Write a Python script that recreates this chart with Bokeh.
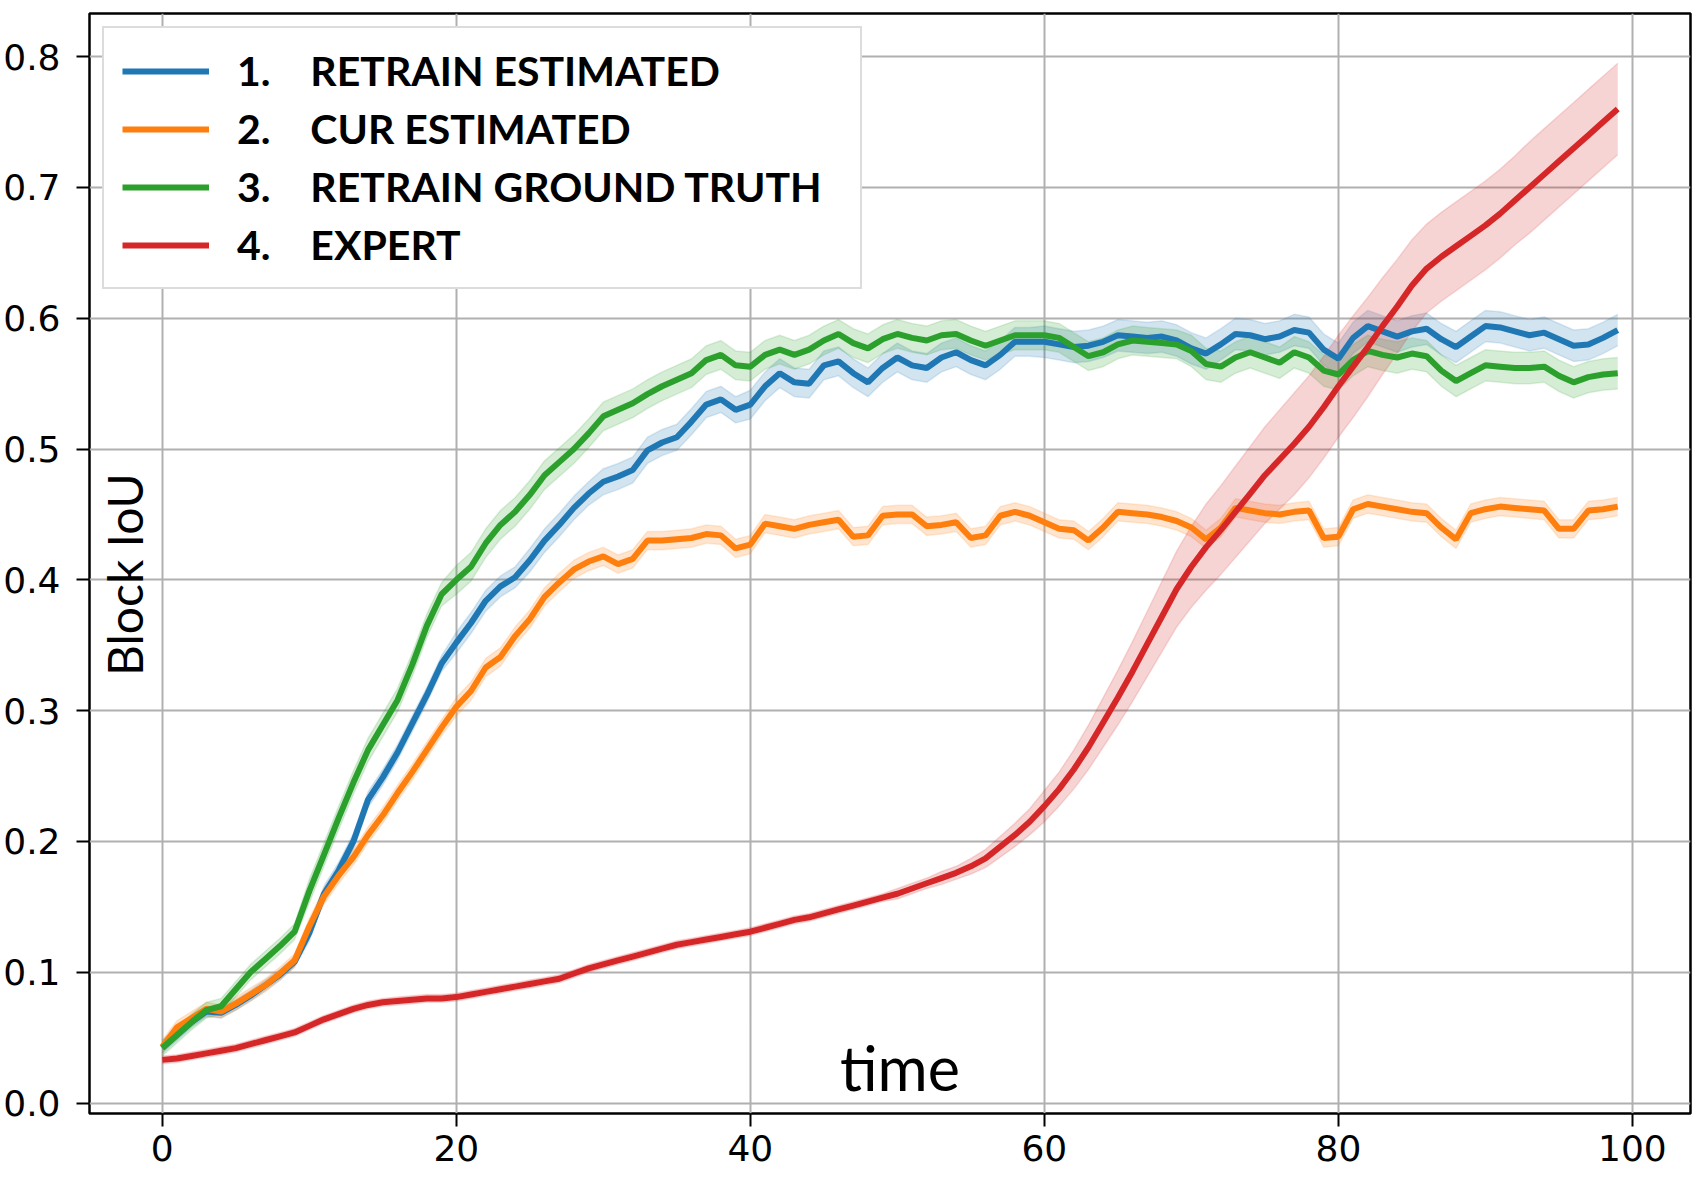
import math
from bokeh.plotting import figure
from bokeh.models import Legend, LegendItem, Label, FixedTicker, PrintfTickFormatter
from bokeh.embed import file_html
from bokeh.resources import INLINE

time_steps = list(range(100))

retrain_estimated = [
    0.042, 0.052, 0.062, 0.070, 0.069, 0.075, 0.082, 0.090, 0.098, 0.108,
    0.130, 0.160, 0.178, 0.200, 0.232, 0.249, 0.268, 0.290, 0.312, 0.336,
    0.352, 0.367, 0.384, 0.395, 0.402, 0.415, 0.430, 0.442, 0.455, 0.466,
    0.475, 0.479, 0.484, 0.499, 0.505, 0.509, 0.521, 0.534, 0.538, 0.530,
    0.534, 0.548, 0.558, 0.551, 0.550, 0.564, 0.567, 0.558, 0.551, 0.562,
    0.570, 0.564, 0.562, 0.570, 0.574, 0.568, 0.564, 0.572, 0.582, 0.582,
    0.582, 0.580, 0.578, 0.579, 0.582, 0.587, 0.586, 0.585, 0.586, 0.583,
    0.577, 0.573, 0.580, 0.588, 0.587, 0.584, 0.586, 0.591, 0.589, 0.576,
    0.569, 0.585, 0.594, 0.590, 0.586, 0.590, 0.592, 0.584, 0.578, 0.586,
    0.594, 0.593, 0.590, 0.587, 0.589, 0.584, 0.579, 0.580, 0.585, 0.591,
]
retrain_estimated_err = [
    0.004, 0.004, 0.004, 0.004, 0.004, 0.004, 0.004, 0.004, 0.004, 0.004,
    0.006, 0.006, 0.006, 0.006, 0.006, 0.006, 0.006, 0.006, 0.006, 0.006,
    0.008, 0.008, 0.008, 0.008, 0.008, 0.009, 0.009, 0.009, 0.009, 0.009,
    0.010, 0.010, 0.010, 0.010, 0.010, 0.010, 0.010, 0.010, 0.010, 0.010,
    0.011, 0.011, 0.011, 0.011, 0.011, 0.011, 0.011, 0.011, 0.011, 0.011,
    0.011, 0.011, 0.011, 0.011, 0.011, 0.011, 0.011, 0.011, 0.011, 0.011,
    0.012, 0.012, 0.012, 0.012, 0.012, 0.012, 0.012, 0.012, 0.012, 0.012,
    0.012, 0.012, 0.012, 0.012, 0.012, 0.012, 0.012, 0.012, 0.012, 0.012,
    0.012, 0.012, 0.012, 0.012, 0.012, 0.012, 0.012, 0.012, 0.012, 0.012,
    0.012, 0.012, 0.012, 0.012, 0.012, 0.012, 0.012, 0.012, 0.012, 0.012,
]

cur_estimated = [
    0.043, 0.058, 0.065, 0.072, 0.070, 0.076, 0.083, 0.090, 0.099, 0.109,
    0.135, 0.158, 0.174, 0.188, 0.205, 0.220, 0.237, 0.253, 0.270, 0.287,
    0.303, 0.315, 0.333, 0.341, 0.357, 0.370, 0.387, 0.398, 0.408, 0.414,
    0.418, 0.412, 0.416, 0.430, 0.430, 0.431, 0.432, 0.435, 0.434, 0.424,
    0.427, 0.443, 0.441, 0.439, 0.442, 0.444, 0.446, 0.433, 0.434, 0.449,
    0.450, 0.450, 0.441, 0.442, 0.444, 0.432, 0.434, 0.449, 0.452, 0.449,
    0.444, 0.439, 0.438, 0.430, 0.440, 0.452, 0.451, 0.450, 0.448, 0.445,
    0.440, 0.431, 0.440, 0.455, 0.453, 0.451, 0.450, 0.452, 0.453, 0.432,
    0.433, 0.454, 0.458, 0.456, 0.454, 0.452, 0.451, 0.440, 0.431, 0.451,
    0.454, 0.456, 0.455, 0.454, 0.453, 0.439, 0.439, 0.453, 0.454, 0.456,
]
cur_estimated_err = [
    0.005, 0.005, 0.005, 0.005, 0.005, 0.005, 0.005, 0.005, 0.005, 0.005,
    0.006, 0.006, 0.006, 0.006, 0.006, 0.006, 0.006, 0.006, 0.006, 0.006,
    0.007, 0.007, 0.007, 0.007, 0.007, 0.007, 0.007, 0.007, 0.007, 0.007,
    0.007, 0.007, 0.007, 0.007, 0.007, 0.007, 0.007, 0.007, 0.007, 0.007,
    0.007, 0.007, 0.007, 0.007, 0.007, 0.007, 0.007, 0.007, 0.007, 0.007,
    0.007, 0.007, 0.007, 0.007, 0.007, 0.007, 0.007, 0.007, 0.007, 0.007,
    0.007, 0.007, 0.007, 0.007, 0.007, 0.007, 0.007, 0.007, 0.007, 0.007,
    0.007, 0.007, 0.007, 0.007, 0.007, 0.007, 0.007, 0.007, 0.007, 0.007,
    0.007, 0.007, 0.007, 0.007, 0.007, 0.007, 0.007, 0.007, 0.007, 0.007,
    0.007, 0.007, 0.007, 0.007, 0.007, 0.007, 0.007, 0.007, 0.007, 0.007,
]

retrain_ground_truth = [
    0.042, 0.052, 0.062, 0.071, 0.074, 0.087, 0.100, 0.110, 0.120, 0.131,
    0.162, 0.190, 0.218, 0.245, 0.270, 0.289, 0.308, 0.335, 0.365, 0.389,
    0.400, 0.410, 0.428, 0.442, 0.452, 0.465, 0.480, 0.490, 0.500, 0.512,
    0.525, 0.530, 0.535, 0.542, 0.548, 0.553, 0.558, 0.568, 0.572, 0.564,
    0.563, 0.572, 0.576, 0.572, 0.576, 0.583, 0.588, 0.581, 0.577, 0.584,
    0.588, 0.585, 0.583, 0.587, 0.588, 0.583, 0.579, 0.583, 0.587, 0.587,
    0.587, 0.585, 0.578, 0.571, 0.574, 0.580, 0.583, 0.582, 0.581, 0.580,
    0.575, 0.565, 0.563, 0.570, 0.574, 0.570, 0.566, 0.574, 0.570, 0.560,
    0.557, 0.568, 0.575, 0.572, 0.570, 0.573, 0.571, 0.560, 0.552, 0.558,
    0.564, 0.563, 0.562, 0.562, 0.563, 0.556, 0.551, 0.555, 0.557, 0.558,
]
retrain_ground_truth_err = [
    0.006, 0.006, 0.006, 0.006, 0.006, 0.006, 0.006, 0.006, 0.006, 0.006,
    0.009, 0.009, 0.009, 0.009, 0.009, 0.009, 0.009, 0.009, 0.009, 0.009,
    0.011, 0.011, 0.011, 0.011, 0.011, 0.011, 0.011, 0.011, 0.011, 0.011,
    0.011, 0.011, 0.011, 0.011, 0.011, 0.011, 0.011, 0.011, 0.011, 0.011,
    0.011, 0.011, 0.011, 0.011, 0.011, 0.011, 0.011, 0.011, 0.011, 0.011,
    0.011, 0.011, 0.011, 0.011, 0.011, 0.011, 0.011, 0.011, 0.011, 0.011,
    0.011, 0.011, 0.011, 0.011, 0.011, 0.011, 0.011, 0.011, 0.011, 0.011,
    0.012, 0.012, 0.012, 0.012, 0.012, 0.012, 0.012, 0.012, 0.012, 0.012,
    0.012, 0.012, 0.012, 0.012, 0.012, 0.012, 0.012, 0.012, 0.012, 0.012,
    0.012, 0.012, 0.012, 0.012, 0.012, 0.012, 0.012, 0.012, 0.012, 0.012,
]

expert = [
    0.033, 0.034, 0.036, 0.038, 0.040, 0.042, 0.045, 0.048, 0.051, 0.054,
    0.059, 0.064, 0.068, 0.072, 0.075, 0.077, 0.078, 0.079, 0.080, 0.080,
    0.081, 0.083, 0.085, 0.087, 0.089, 0.091, 0.093, 0.095, 0.099, 0.103,
    0.106, 0.109, 0.112, 0.115, 0.118, 0.121, 0.123, 0.125, 0.127, 0.129,
    0.131, 0.134, 0.137, 0.140, 0.142, 0.145, 0.148, 0.151, 0.154, 0.157,
    0.160, 0.164, 0.168, 0.172, 0.176, 0.181, 0.187, 0.196, 0.205, 0.215,
    0.227, 0.240, 0.255, 0.272, 0.291, 0.310, 0.330, 0.351, 0.372, 0.393,
    0.410, 0.425, 0.438, 0.452, 0.466, 0.480, 0.492, 0.504, 0.517, 0.532,
    0.548, 0.563, 0.578, 0.594, 0.609, 0.625, 0.638, 0.647, 0.655, 0.663,
    0.671, 0.680, 0.690, 0.700, 0.710, 0.720, 0.730, 0.740, 0.750, 0.760,
]
expert_err = [
    0.003, 0.003, 0.003, 0.003, 0.003, 0.003, 0.003, 0.003, 0.003, 0.003,
    0.003, 0.003, 0.003, 0.003, 0.003, 0.003, 0.003, 0.003, 0.003, 0.003,
    0.003, 0.003, 0.003, 0.003, 0.003, 0.003, 0.003, 0.003, 0.003, 0.003,
    0.003, 0.003, 0.003, 0.003, 0.003, 0.003, 0.003, 0.003, 0.003, 0.003,
    0.003, 0.003, 0.003, 0.003, 0.003, 0.003, 0.003, 0.003, 0.003, 0.003,
    0.004, 0.004, 0.004, 0.005, 0.005, 0.006, 0.007, 0.008, 0.009, 0.010,
    0.012, 0.013, 0.015, 0.017, 0.019, 0.021, 0.023, 0.025, 0.027, 0.029,
    0.031, 0.033, 0.034, 0.035, 0.036, 0.037, 0.038, 0.039, 0.039, 0.039,
    0.039, 0.039, 0.038, 0.037, 0.036, 0.035, 0.034, 0.034, 0.034, 0.034,
    0.034, 0.034, 0.034, 0.035, 0.035, 0.035, 0.035, 0.035, 0.035, 0.035,
]

gap = "\u00a0\u00a0\u00a0\u00a0"
series_labels = [
    "1." + gap + "RETRAIN ESTIMATED",
    "2." + gap + "CUR ESTIMATED",
    "3." + gap + "RETRAIN GROUND TRUTH\u00a0\u00a0",
    "4." + gap + "EXPERT",
]
series_colors = ["#1f77b4", "#ff7f0e", "#2ca02c", "#d62728"]
series_values = [retrain_estimated, cur_estimated, retrain_ground_truth, expert]
series_errors = [retrain_estimated_err, cur_estimated_err, retrain_ground_truth_err, expert_err]

x_ticks = [0, 20, 40, 60, 80, 100]
y_ticks = [0.0, 0.1, 0.2, 0.3, 0.4, 0.5, 0.6, 0.7, 0.8]

p = figure(
    width=1696, height=1176,
    x_range=(-4.95, 103.95), y_range=(-0.008, 0.833),
    output_backend="svg", toolbar_location=None,
    min_border_left=87, min_border_right=6, min_border_top=13, min_border_bottom=63,
)
p.background_fill_color = "white"
p.border_fill_color = "white"
p.outline_line_color = "black"
p.outline_line_width = 2.5
p.outline_line_alpha = 1.0

p.xgrid.ticker = FixedTicker(ticks=x_ticks)
p.ygrid.ticker = FixedTicker(ticks=y_ticks)
p.grid.grid_line_color = "#b0b0b0"
p.grid.grid_line_width = 2
p.grid.grid_line_alpha = 1.0

p.xaxis.ticker = FixedTicker(ticks=x_ticks)
p.yaxis.ticker = FixedTicker(ticks=y_ticks)
p.yaxis.formatter = PrintfTickFormatter(format="%.1f")
for ax in (p.xaxis, p.yaxis):
    ax.axis_line_color = None
    ax.major_tick_line_color = "black"
    ax.major_tick_line_width = 2
    ax.major_tick_out = 13
    ax.major_tick_in = 0
    ax.minor_tick_line_color = None
    ax.major_label_text_font = "DejaVu Sans"
    ax.major_label_text_font_size = "36px"
    ax.major_label_text_color = "black"
p.yaxis.major_label_standoff = 16
p.xaxis.major_label_standoff = 8

items = []
for label, color, vals, errs in zip(series_labels, series_colors, series_values, series_errors):
    lower = [v - e for v, e in zip(vals, errs)]
    upper = [v + e for v, e in zip(vals, errs)]
    p.varea(x=time_steps, y1=lower, y2=upper, fill_color=color, fill_alpha=0.2)
    p.line(x=time_steps, y=lower, line_color=color, line_alpha=0.15, line_width=1.5)
    p.line(x=time_steps, y=upper, line_color=color, line_alpha=0.15, line_width=1.5)
for label, color, vals in zip(series_labels, series_colors, series_values):
    r = p.line(x=time_steps, y=vals, line_color=color, line_width=6)
    items.append(LegendItem(label=label, renderers=[r]))

legend = Legend(
    items=items, location="top_left", margin=13,
    padding=18, spacing=9,
    label_height=48, glyph_height=48, glyph_width=87, label_standoff=28,
    label_text_font="Lato", label_text_font_style="bold",
    label_text_font_size="41px", label_text_color="black",
    background_fill_color="white", background_fill_alpha=1.0,
    border_line_color="#dcdcdc", border_line_width=2, border_line_alpha=1.0,
)
p.add_layout(legend, "center")

p.add_layout(Label(x=46.1, y=0.027, text="time", text_font="Lato",
                   text_font_size="61px", text_color="black",
                   text_baseline="alphabetic", text_align="left"))
p.add_layout(Label(x=-2.55, y=0.404, text="Block IoU", text_font="Lato",
                   text_font_size="48px", text_color="black",
                   angle=math.pi / 2, text_align="center", text_baseline="middle"))

open("out.html", "w").write(file_html(p, INLINE))
